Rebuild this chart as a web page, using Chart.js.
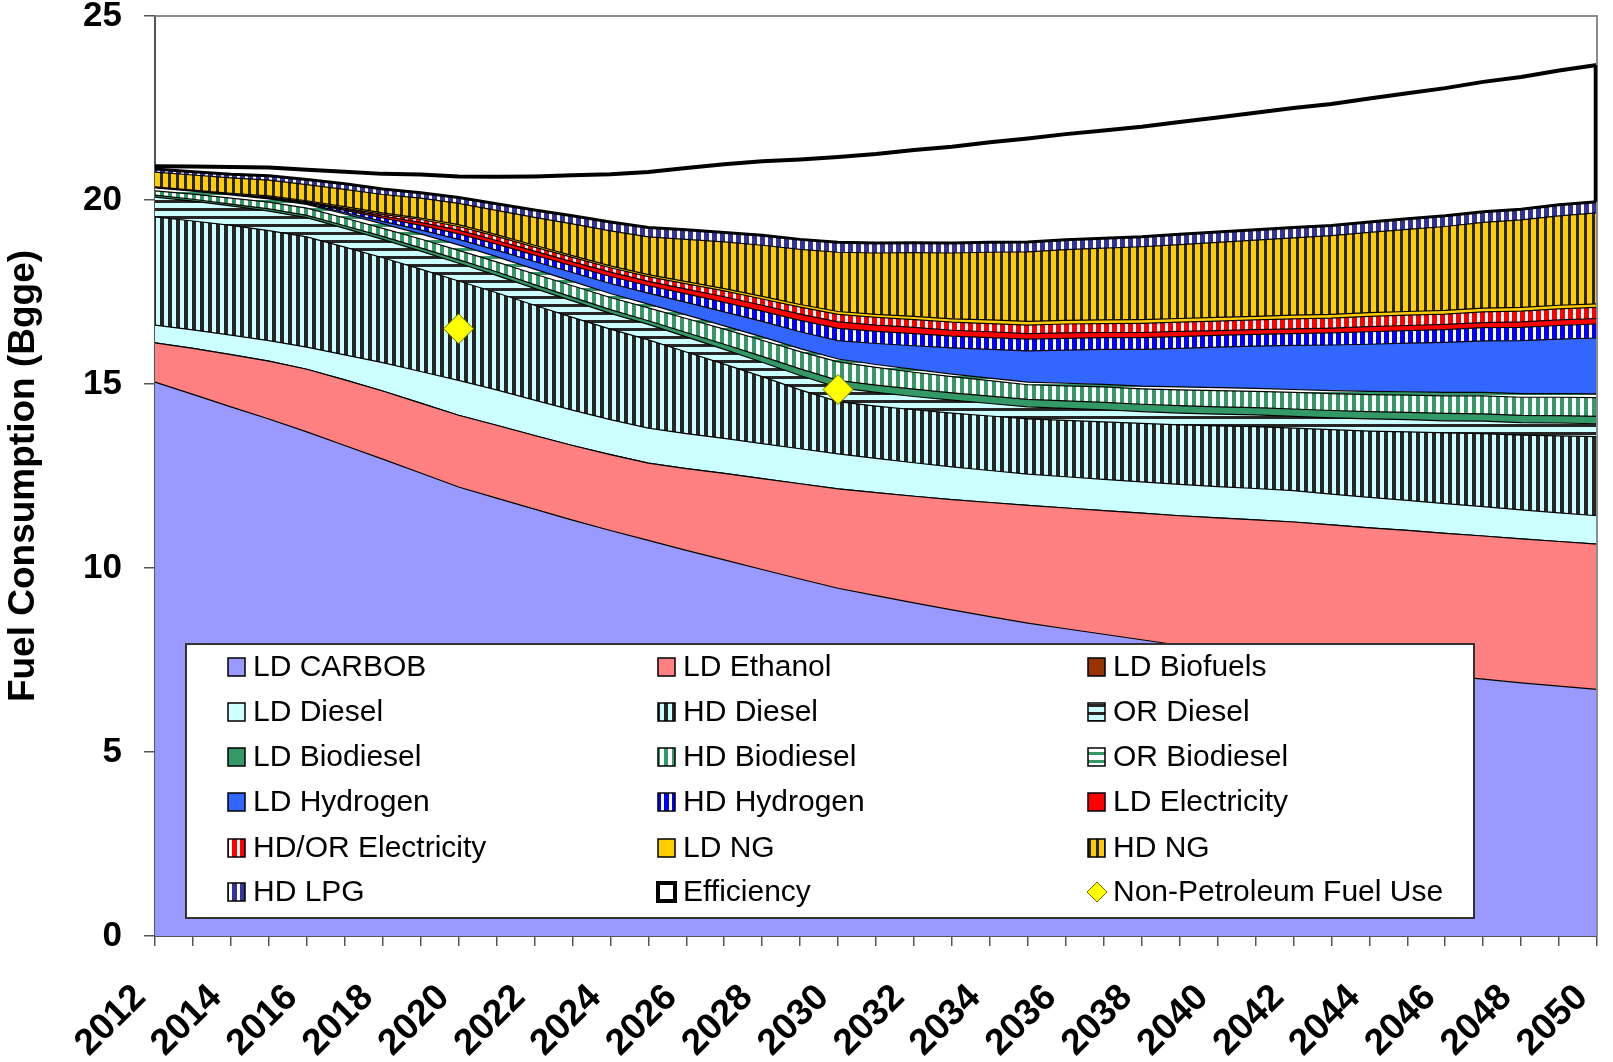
<!DOCTYPE html>
<html>
<head>
<meta charset="utf-8">
<title>Fuel Consumption (Bgge)</title>
<script src="https://cdn.jsdelivr.net/npm/chart.js@4.4.1/dist/chart.umd.min.js"></script>
<style>
  html, body { margin: 0; padding: 0; background: #fff; }
  #wrap { width: 1613px; height: 1062px; }
</style>
</head>
<body>
<div id="wrap"><canvas id="fuelChart" width="1613" height="1062"></canvas></div>
<script>
// Data (Bgge, stacked from the bottom up)
const years = ['2012','2013','2014','2015','2016','2017','2018','2019','2020',
  '2021','2022','2023','2024','2025','2026','2027','2028','2029','2030',
  '2031','2032','2033','2034','2035','2036','2037','2038','2039','2040',
  '2041','2042','2043','2044','2045','2046','2047','2048','2049','2050'];

const ldCarbob = [15.05,14.72,14.38,14.05,13.7,13.33,12.96,12.58,12.2,
  11.9,11.6,11.3,11.02,10.75,10.48,10.22,9.96,9.7,9.45,
  9.25,9.05,8.86,8.68,8.5,8.35,8.2,8.05,7.9,7.76,
  7.63,7.5,7.39,7.28,7.18,7.08,6.98,6.88,6.79,6.7];
const ldEthanol = [1.07,1.25,1.42,1.57,1.7,1.78,1.85,1.9,1.95,
  1.98,2.0,2.03,2.06,2.1,2.22,2.35,2.47,2.59,2.7,
  2.8,2.9,3.0,3.1,3.2,3.28,3.36,3.44,3.52,3.6,
  3.68,3.75,3.78,3.81,3.84,3.86,3.89,3.91,3.93,3.95];
const ldBiofuels = [0,0,0,0,0,0,0,0,0,
  0,0,0,0,0,0,0,0,0,0,
  0,0,0,0,0,0,0,0,0,0,
  0,0,0,0,0,0,0,0,0,0];
const ldDiesel = [0.48,0.5,0.53,0.56,0.6,0.68,0.77,0.86,0.95,
  0.96,0.96,0.96,0.95,0.95,0.95,0.95,0.95,0.95,0.95,
  0.93,0.91,0.89,0.87,0.85,0.85,0.85,0.85,0.85,0.85,
  0.85,0.85,0.84,0.83,0.82,0.81,0.8,0.79,0.78,0.77];
const hdDiesel = [2.94,2.96,2.98,2.99,3.0,2.93,2.85,2.78,2.7,
  2.64,2.58,2.52,2.46,2.4,2.22,2.02,1.82,1.6,1.42,
  1.42,1.44,1.46,1.48,1.5,1.53,1.56,1.59,1.62,1.65,
  1.68,1.7,1.75,1.8,1.86,1.92,1.98,2.03,2.09,2.15];
const orDiesel = [0.54,0.54,0.53,0.53,0.52,0.51,0.5,0.49,0.48,
  0.47,0.46,0.45,0.43,0.42,0.41,0.4,0.39,0.39,0.38,
  0.37,0.36,0.35,0.34,0.33,0.33,0.33,0.32,0.32,0.32,
  0.32,0.32,0.32,0.33,0.33,0.33,0.34,0.34,0.35,0.35];
const ldBiodiesel = [0.05,0.05,0.05,0.06,0.06,0.07,0.08,0.09,0.1,
  0.1,0.1,0.1,0.1,0.1,0.12,0.14,0.16,0.18,0.2,
  0.2,0.2,0.2,0.2,0.2,0.2,0.2,0.2,0.2,0.2,
  0.2,0.2,0.2,0.2,0.2,0.2,0.2,0.2,0.2,0.2];
const hdBiodiesel = [0.12,0.14,0.16,0.18,0.2,0.21,0.22,0.24,0.25,
  0.27,0.29,0.31,0.33,0.35,0.38,0.41,0.44,0.47,0.5,
  0.48,0.46,0.44,0.42,0.4,0.41,0.42,0.42,0.43,0.44,
  0.44,0.45,0.46,0.46,0.47,0.48,0.49,0.49,0.5,0.51];
const orBiodiesel = [0.08,0.08,0.09,0.09,0.1,0.11,0.12,0.14,0.15,
  0.14,0.13,0.12,0.11,0.1,0.1,0.09,0.09,0.08,0.08,
  0.08,0.08,0.07,0.07,0.07,0.07,0.07,0.07,0.08,0.08,
  0.08,0.08,0.08,0.09,0.09,0.09,0.09,0.1,0.1,0.1];
const ldHydrogen = [0,0,0,0.01,0.02,0.04,0.07,0.11,0.15,
  0.18,0.21,0.24,0.27,0.3,0.34,0.38,0.42,0.46,0.5,
  0.57,0.64,0.71,0.78,0.85,0.9,0.95,1.0,1.05,1.1,
  1.15,1.2,1.24,1.28,1.32,1.36,1.4,1.44,1.48,1.52];
const hdHydrogen = [0,0,0.01,0.02,0.03,0.06,0.09,0.12,0.15,
  0.16,0.17,0.18,0.19,0.2,0.23,0.26,0.28,0.31,0.33,
  0.33,0.33,0.32,0.32,0.32,0.32,0.32,0.32,0.32,0.32,
  0.32,0.32,0.33,0.34,0.34,0.35,0.36,0.36,0.37,0.38];
const ldElectricity = [0,0,0,0.01,0.01,0.03,0.05,0.08,0.1,
  0.1,0.11,0.11,0.12,0.12,0.13,0.15,0.16,0.17,0.18,
  0.17,0.17,0.16,0.16,0.15,0.15,0.14,0.14,0.14,0.13,
  0.13,0.13,0.13,0.14,0.14,0.14,0.14,0.15,0.15,0.15];
const hdorElectricity = [0,0,0,0.01,0.01,0.03,0.05,0.08,0.1,
  0.11,0.11,0.12,0.12,0.13,0.14,0.16,0.17,0.19,0.2,
  0.21,0.21,0.22,0.22,0.23,0.24,0.24,0.25,0.25,0.26,
  0.26,0.27,0.27,0.28,0.28,0.28,0.29,0.29,0.3,0.3];
const ldNG = [0.03,0.03,0.03,0.03,0.03,0.04,0.04,0.04,0.05,
  0.05,0.05,0.05,0.05,0.05,0.06,0.06,0.07,0.07,0.08,
  0.08,0.09,0.09,0.1,0.1,0.1,0.1,0.1,0.1,0.1,
  0.1,0.1,0.1,0.1,0.1,0.1,0.1,0.1,0.1,0.1];
const hdNG = [0.4,0.41,0.42,0.43,0.44,0.47,0.5,0.54,0.58,
  0.66,0.76,0.86,0.95,1.03,1.15,1.27,1.39,1.5,1.61,
  1.67,1.73,1.79,1.84,1.89,1.92,1.95,1.98,2.01,2.04,
  2.07,2.1,2.14,2.18,2.23,2.28,2.33,2.38,2.43,2.47];
const hdLPG = [0.08,0.09,0.1,0.12,0.14,0.15,0.15,0.15,0.16,
  0.18,0.2,0.22,0.24,0.25,0.26,0.26,0.27,0.27,0.27,
  0.27,0.27,0.27,0.27,0.27,0.27,0.27,0.27,0.28,0.28,
  0.28,0.28,0.28,0.28,0.29,0.29,0.29,0.29,0.3,0.3];
const efficiency = [0.08,0.14,0.2,0.22,0.26,0.33,0.41,0.49,0.57,
  0.73,0.91,1.1,1.3,1.51,1.68,1.85,2.01,2.17,2.32,
  2.42,2.52,2.62,2.72,2.81,2.87,2.93,2.99,3.05,3.11,
  3.18,3.25,3.3,3.36,3.41,3.47,3.53,3.59,3.65,3.72];
const nonPetroleum = [null,null,null,null,null,null,null,null,16.5,
  null,null,null,null,null,null,null,null,null,14.85,
  null,null,null,null,null,null,null,null,null,null,
  null,null,null,null,null,null,null,null,null,null];

const canvas = document.getElementById('fuelChart');
const ctx = canvas.getContext('2d');

// Excel-like hatched fills
function stripes(bg, fg, size, vertical) {
  const tile = document.createElement('canvas');
  tile.width = 8;
  tile.height = 8;
  const t = tile.getContext('2d');
  t.fillStyle = bg;
  t.fillRect(0, 0, 8, 8);
  t.fillStyle = fg;
  if (vertical) t.fillRect(0, 0, size, 8);
  else t.fillRect(0, 0, 8, size);
  return ctx.createPattern(tile, 'repeat');
}

const series = [
  ['LD CARBOB', ldCarbob, '#9999FF'],
  ['LD Ethanol', ldEthanol, '#FF8080'],
  ['LD Biofuels', ldBiofuels, '#993300'],
  ['LD Diesel', ldDiesel, '#CCFFFF'],
  ['HD Diesel', hdDiesel, stripes('#CCFFFF', '#262626', 4, true)],
  ['OR Diesel', orDiesel, stripes('#CCFFFF', '#262626', 3, false)],
  ['LD Biodiesel', ldBiodiesel, '#339966'],
  ['HD Biodiesel', hdBiodiesel, stripes('#FFFFFF', '#339966', 4, true)],
  ['OR Biodiesel', orBiodiesel, stripes('#FFFFFF', '#339966', 3, false)],
  ['LD Hydrogen', ldHydrogen, '#3366FF'],
  ['HD Hydrogen', hdHydrogen, stripes('#FFFFFF', '#0000FF', 5, true)],
  ['LD Electricity', ldElectricity, '#FF0000'],
  ['HD/OR Electricity', hdorElectricity, stripes('#FFFFFF', '#FF0000', 5, true)],
  ['LD NG', ldNG, '#FFCC00'],
  ['HD NG', hdNG, stripes('#FFCC00', '#262626', 3, true)],
  ['HD LPG', hdLPG, stripes('#FFFFFF', '#333399', 5, true)],
  ['Efficiency', efficiency, '#FFFFFF']
];

const datasets = series.map(([label, data, bg], i) => ({
  label: label,
  data: data,
  backgroundColor: bg,
  borderColor: '#000',
  borderWidth: label === 'Efficiency' ? 4 : (label === 'HD LPG' ? 3 : 1.2),
  fill: i === 0 ? 'origin' : '-1',
  pointRadius: 0,
  tension: 0,
  stack: 'fuel'
}));

datasets.push({
  label: 'Non-Petroleum Fuel Use',
  data: nonPetroleum,
  stack: 'np',
  order: -1,
  showLine: false,
  fill: false,
  pointStyle: 'rectRot',
  pointRadius: 15,
  backgroundColor: '#FFFF00',
  borderColor: '#6B6B00',
  pointBackgroundColor: '#FFFF00',
  pointBorderColor: '#6B6B00',
  pointBorderWidth: 1
});

// plot frame, closing edge of the Efficiency area, and the boxed legend
const frameAndLegend = {
  id: 'frameAndLegend',
  afterDatasetsDraw(chart) {
    const a = chart.chartArea;
    const c = chart.ctx;
    c.save();
    c.strokeStyle = '#8C8C8C';
    c.lineWidth = 2;
    c.beginPath();
    c.moveTo(a.left, a.top);
    c.lineTo(a.right, a.top);
    c.lineTo(a.right, a.bottom);
    c.stroke();
    const eff = chart.getDatasetMeta(16).data;
    const lpg = chart.getDatasetMeta(15).data;
    const last = eff.length - 1;
    c.strokeStyle = '#000';
    c.lineWidth = 3.5;
    c.beginPath();
    c.moveTo(a.right - 1.5, eff[last].y);
    c.lineTo(a.right - 1.5, lpg[last].y);
    c.stroke();
    c.restore();
  },
  afterDraw(chart) {
    const c = chart.ctx;
    const box = { x: 186, y: 644, w: 1288, h: 274 };
    const colX = [228, 658, 1088];
    const rowY = [667, 712, 757, 802, 848, 892];
    c.save();
    c.fillStyle = '#FFFFFF';
    c.fillRect(box.x, box.y, box.w, box.h);
    c.strokeStyle = '#333';
    c.lineWidth = 2;
    c.strokeRect(box.x, box.y, box.w, box.h);
    c.font = '30px "Liberation Sans", Arial, sans-serif';
    c.textBaseline = 'middle';
    c.textAlign = 'left';
    chart.data.datasets.forEach((ds, i) => {
      const x = colX[i % 3];
      const y = rowY[Math.floor(i / 3)];
      if (ds.pointStyle === 'rectRot') {
        c.beginPath();
        c.moveTo(x + 9, y - 10);
        c.lineTo(x + 19, y);
        c.lineTo(x + 9, y + 10);
        c.lineTo(x - 1, y);
        c.closePath();
        c.fillStyle = ds.backgroundColor;
        c.fill();
        c.strokeStyle = ds.borderColor;
        c.lineWidth = 1;
        c.stroke();
      } else {
        c.fillStyle = ds.backgroundColor;
        c.fillRect(x, y - 9, 17, 18);
        c.strokeStyle = '#000';
        c.lineWidth = ds.label === 'Efficiency' ? 4 : 1.5;
        c.strokeRect(x, y - 9, 17, 18);
      }
      c.fillStyle = '#000';
      c.fillText(ds.label, x + 25, y + 1);
    });
    c.restore();
  }
};

Chart.defaults.font.family = '"Liberation Sans", Arial, sans-serif';
Chart.defaults.color = '#000';

new Chart(ctx, {
  type: 'line',
  data: { labels: years, datasets: datasets },
  options: {
    responsive: false,
    animation: false,
    layout: { padding: { top: 16, right: 3, left: 0, bottom: 0 } },
    plugins: {
      legend: { display: false },
      tooltip: { enabled: false }
    },
    scales: {
      x: {
        type: 'category',
        grid: { display: true, drawOnChartArea: false, drawTicks: true, tickLength: 10, color: '#555', lineWidth: 1.5 },
        border: { display: true, color: '#555', width: 2 },
        ticks: {
          autoSkip: false,
          maxRotation: 45,
          minRotation: 45,
          padding: 30,
          labelOffset: -15,
          font: { size: 37, weight: 'bold' },
          callback: function (value, index) { return index % 2 === 0 ? years[index] : ''; }
        },
        afterFit: function (scale) {
          scale.height = 126;
          scale.paddingLeft = 0;
          scale.paddingRight = 0;
        }
      },
      y: {
        stacked: true,
        min: 0,
        max: 25,
        grid: { display: true, drawOnChartArea: false, drawTicks: true, tickLength: 11, color: '#555', lineWidth: 1.5 },
        border: { display: true, color: '#555', width: 2 },
        ticks: { stepSize: 5, padding: 22, font: { size: 35, weight: 'bold' } },
        title: {
          display: true,
          text: 'Fuel Consumption (Bgge)',
          font: { size: 37, weight: 'bold' },
          padding: { top: 2, bottom: 0 }
        },
        afterFit: function (scale) {
          scale.width = 155;
          scale.paddingTop = 0;
          scale.paddingBottom = 0;
        }
      }
    }
  },
  plugins: [frameAndLegend]
});
</script>
</body>
</html>
